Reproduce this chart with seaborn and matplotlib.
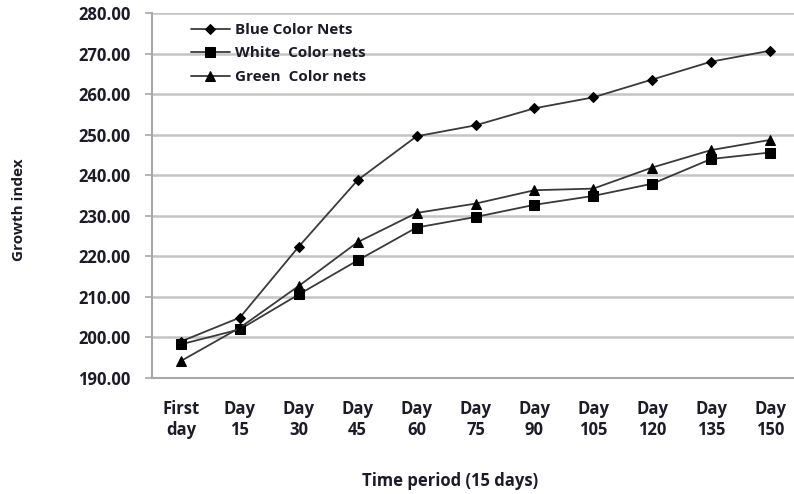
import matplotlib
matplotlib.use("Agg")
import matplotlib.pyplot as plt
import seaborn as sns
import pandas as pd
import numpy as np

categories = ["First\nday", "Day\n15", "Day\n30", "Day\n45", "Day\n60", "Day\n75",
              "Day\n90", "Day\n105", "Day\n120", "Day\n135", "Day\n150"]
blue_nets = [199.0, 204.9, 222.4, 238.8, 249.6, 252.3, 256.5, 259.2, 263.6, 268.0, 270.7]
white_nets = [198.3, 202.0, 210.6, 219.0, 227.1, 229.7, 232.7, 234.9, 237.9, 244.0, 245.6]
green_nets = [194.2, 202.4, 212.7, 223.5, 230.7, 233.0, 236.3, 236.7, 241.9, 246.2, 248.7]
series_names = ["Blue Color Nets", "White  Color nets", "Green  Color nets"]

rows = []
for name, vals in zip(series_names, [blue_nets, white_nets, green_nets]):
    for i, v in enumerate(vals):
        rows.append({"pos": i, "value": v, "series": name})
df = pd.DataFrame(rows)

sns.set_style("white")
plt.rcParams["font.family"] = ["Open Sans", "DejaVu Sans"]
plt.rcParams["font.weight"] = "bold"

fig = plt.figure(figsize=(7.94, 4.94), dpi=100)
ax = fig.add_axes([151.5 / 794, 1 - 378 / 494, 648 / 794, 365 / 494])

text_color = "#1c1c28"
sns.lineplot(data=df, x="pos", y="value", hue="series", style="series",
             palette=["#3a3a3a"] * 3,
             markers={series_names[0]: "D", series_names[1]: "s", series_names[2]: "^"},
             dashes=False, linewidth=1.3, markersize=7,
             markerfacecolor="black", markeredgecolor="black", ax=ax)
for line in ax.lines:
    if line.get_marker() == "D":
        line.set_markersize(5.5)
    elif line.get_marker() == "s":
        line.set_markersize(7)
    elif line.get_marker() == "^":
        line.set_markersize(7.5)

ax.set_ylim(190, 280)
ax.set_xlim(-0.5, 10.5)
ax.set_yticks(np.arange(190, 281, 10))
ax.set_yticklabels([f"{v:.2f}" for v in np.arange(190, 281, 10)])
ax.set_xticks(range(len(categories)))
ax.set_xticklabels(categories, linespacing=1.2)
ax.set_xticks(np.arange(-0.5, 10.6, 1), minor=True)

ax.grid(axis="y", color="#c4c4c4", linewidth=1.8)
ax.set_axisbelow(True)
for s in ["top", "right"]:
    ax.spines[s].set_visible(False)
for s in ["left", "bottom"]:
    ax.spines[s].set_color("#a8a8a8")
    ax.spines[s].set_linewidth(1.5)

ax.tick_params(axis="y", which="major", length=5, width=1.2, color="#a8a8a8",
               direction="out", pad=10, labelsize=12, labelcolor=text_color)
ax.tick_params(axis="x", which="major", length=0, pad=16, labelsize=12, labelcolor=text_color)
ax.tick_params(axis="x", which="minor", length=6, width=1.2, color="#a8a8a8", direction="out")
ax.tick_params(left=True)

ax.set_xlabel("Time period (15 days)", fontsize=12, fontweight="bold", color=text_color)
ax.xaxis.label.set_verticalalignment("center")
ax.xaxis.set_label_coords((450 - 151.5) / 648, -(481 - 378) / 365)
ax.set_ylabel("Growth index", fontsize=11, fontweight="bold", color=text_color)
ax.yaxis.label.set_verticalalignment("center")
ax.yaxis.set_label_coords(-(151.5 - 19) / 648, (378 - 210) / 365)

handles, labels = ax.get_legend_handles_labels()
leg = ax.legend(handles, labels, loc="upper left", bbox_to_anchor=(0.045, 1.0),
                frameon=False, fontsize=11, handlelength=2.6, labelspacing=0.62,
                handletextpad=0.3, borderaxespad=0.25)
for t in leg.get_texts():
    t.set_color(text_color)
    t.set_fontweight("bold")

fig.savefig("out.png", dpi=100)
